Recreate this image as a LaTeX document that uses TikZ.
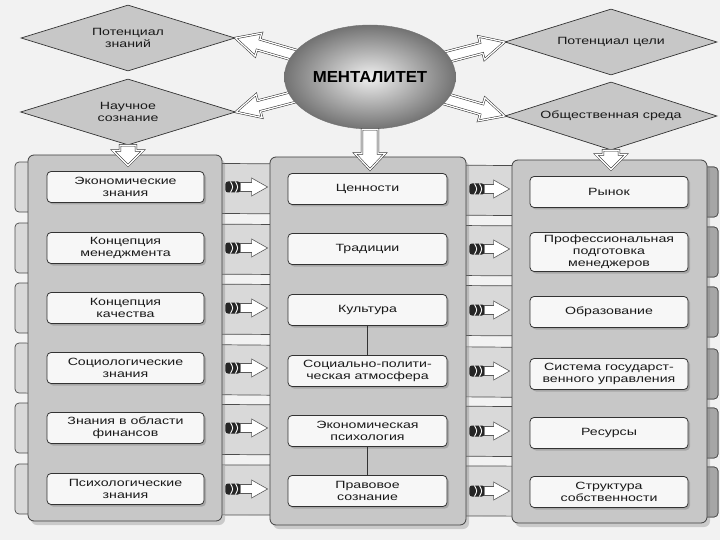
\documentclass[tikz,border=0pt]{standalone}
\usepackage{fontspec}
\setmainfont{Liberation Sans}[FakeStretch=1.35]
\newfontfamily\mentfont{Liberation Sans}[FakeStretch=1.05]
\usetikzlibrary{shapes.geometric,calc,shadows,shadings}
\pgfdeclarelayer{strips}
\pgfdeclarelayer{arrs}
\pgfsetlayers{strips,arrs,main}

\newcommand\fatarrow[6]{%
  \path #2 coordinate (faA) #3 coordinate (faB);
  \path ($(faB)!#6!(faA)$) coordinate (faH);
  \path[#1] ($(faA)!#4!90:(faB)$) -- ($(faH)!#4!90:(faB)$) -- ($(faH)!#5!90:(faB)$)
    -- (faB) -- ($(faH)!#5!-90:(faB)$) -- ($(faH)!#4!-90:(faB)$)
    -- ($(faA)!#4!-90:(faB)$) -- cycle;
}
\newcommand\colarrow[2]{%
  \path #1 ++(3,0) coordinate (caS);
  \path #2 ++(-2,0) coordinate (caE);
  \path ($(caS)+(15,0)$) coordinate (caT);
  \fill[black!85, rounded corners=2.5pt] ($(caS)+(0,-5.5)$) rectangle ($(caS)+(15,5.5)$);
  \foreach \k in {5,10} \draw[white, line width=.9pt] ($(caS)+(\k,-5.5)$) .. controls ($(caS)+(\k+3,0)$) .. ($(caS)+(\k,5.5)$);
  \fatarrow{thinarr}{(caT)}{(caE)}{4.5pt}{9pt}{16pt}
}

\tikzset{
  txt/.style={font=\fontsize{10.5}{12}\selectfont, text=black!90},
  panel/.style={draw=black!75, line width=.8pt, fill=black!22, rounded corners=6pt,
    drop shadow={shadow xshift=3pt, shadow yshift=-4pt, opacity=.35}},
  box/.style={txt, draw=black!80, fill=black!3, line width=.8pt, rounded corners=4pt,
    align=center, minimum height=31pt, inner sep=2pt,
    drop shadow={shadow xshift=2pt, shadow yshift=-2pt, opacity=.45}},
  lbox/.style={box, minimum width=157pt},
  mbox/.style={box, minimum width=159pt},
  rbox/.style={box, minimum width=158pt},
  dia/.style={diamond, aspect=3.2, inner sep=0pt, draw=black!80, fill=black!22,
    line width=.7pt, txt, align=center},
  strip/.style={draw=black!70, line width=.7pt, fill=black!15, rounded corners=4pt},
  tab/.style={draw=black!70, line width=.7pt, fill=black!35, rounded corners=4pt},
  bigarr/.style={draw=black!85, line width=.5pt, double=white, double distance=1.3pt,
    fill=white, line join=miter},
  thinarr/.style={draw=black!65, fill=white, line width=.6pt},
}

\begin{document}
\begin{tikzpicture}[x=1pt, y=-1pt]
\useasboundingbox (0,0) rectangle (720,540);
\begin{pgfonlayer}{strips}
  \fill[black!5] (0,0) rectangle (720,540);
  \foreach \yl/\yr in {187/192, 248/252, 308/312, 368/374, 428/433, 489/492}{
    \draw[strip] (15,\yl-25) -- (718,\yr-25) -- (718,\yr+25) -- (15,\yl+25) -- cycle;
    \draw[tab] (695,\yr-25) -- (718,\yr-25) -- (718,\yr+25) -- (695,\yr+25) -- cycle;
  }
\end{pgfonlayer}

% panels
\node[panel, minimum width=194pt, minimum height=366pt] (lp) at (125,338) {};
\node[panel, minimum width=196pt, minimum height=368pt] (mp) at (368,341) {};
\node[panel, minimum width=195pt, minimum height=363pt] (rp) at (609.5,341.5) {};

% boxes
\node[lbox] (l1) at (125.5,187) {Экономические\\знания};
\node[lbox] (l2) at (125.5,248) {Концепция\\менеджмента};
\node[lbox] (l3) at (125.5,308) {Концепция\\качества};
\node[lbox] (l4) at (125.5,368) {Социологические\\знания};
\node[lbox] (l5) at (125.5,428) {Знания в области\\финансов};
\node[lbox] (l6) at (125.5,489) {Психологические\\знания};

\node[mbox] (m1) at (367.5,189) {Ценности};
\node[mbox] (m2) at (367.5,249) {Традиции};
\node[mbox] (m3) at (367.5,310) {Культура};
\node[mbox] (m4) at (367.5,371) {Социально-полити-\\ческая атмосфера};
\node[mbox] (m5) at (367.5,431) {Экономическая\\психология};
\node[mbox] (m6) at (367.5,491) {Правовое\\сознание};

\node[rbox] (r1) at (609,192) {Рынок};
\node[rbox, minimum height=39pt] (r2) at (609,252) {Профессиональная\\подготовка\\менеджеров};
\node[rbox] (r3) at (609,312) {Образование};
\node[rbox] (r4) at (609,374) {Система государст-\\венного управления};
\node[rbox] (r5) at (609,433) {Ресурсы};
\node[rbox] (r6) at (609,492) {Структура\\собственности};

\draw[black!80, line width=.8pt] (m3.south) -- (m4.north);
\draw[black!80, line width=.8pt] (m5.south) -- (m6.north);

% diamonds
\node[dia, minimum width=214pt, minimum height=66pt] (d1) at (128,38) {Потенциал\\знаний};
\node[dia, minimum width=215pt, minimum height=66pt] (d2) at (128,112) {Научное\\сознание};
\node[dia, minimum width=212pt, minimum height=66pt] (d3) at (611,42) {Потенциал цели};
\node[dia, minimum width=212pt, minimum height=68pt] (d4) at (611,116) {Общественная среда};

% central ellipse
\node[ellipse, minimum width=136pt, minimum height=104pt, shading=radial,
  inner color=black!6, outer color=black!55, draw=black!55,
  font=\mentfont\bfseries\fontsize{16}{18}\selectfont] (ment) at (370,77) {МЕНТАЛИТЕТ};

\begin{pgfonlayer}{arrs}
  \fatarrow{bigarr}{(ment.center)}{(d1.east)}{5.5pt}{12pt}{24pt}
  \fatarrow{bigarr}{(ment.center)}{(d2.east)}{5.5pt}{12pt}{24pt}
  \fatarrow{bigarr}{(ment.center)}{(d3.west)}{5.5pt}{12pt}{24pt}
  \fatarrow{bigarr}{(ment.center)}{(d4.west)}{5.5pt}{12pt}{24pt}
\end{pgfonlayer}

% down arrows
\fatarrow{bigarr}{(d2.south)}{($(d2.south |- lp.north)+(0,11)$)}{8pt}{15pt}{15pt}
\fatarrow{bigarr}{(ment.south)}{($(ment.south |- mp.north)+(0,13)$)}{8pt}{15pt}{16pt}
\fatarrow{bigarr}{(d4.south)}{($(d4.south |- rp.north)+(0,10)$)}{8pt}{15pt}{15pt}

% column arrows
\foreach \i in {1,...,6} {
  \colarrow{(lp.east |- l\i)}{(mp.west |- l\i)}
  \colarrow{(mp.east |- m\i)}{(rp.west |- m\i)}
}
\end{tikzpicture}
\end{document}
